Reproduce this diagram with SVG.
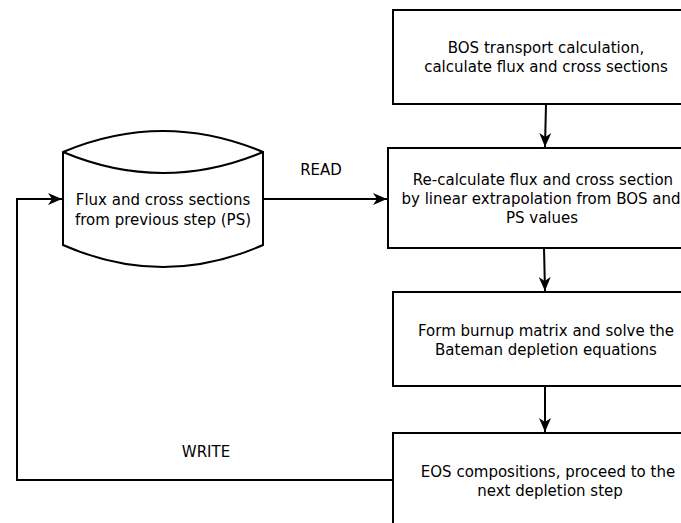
<svg xmlns="http://www.w3.org/2000/svg" width="681" height="523" viewBox="0 0 681 523">
<defs>
<style>
.box{fill:#fff;stroke:#000;stroke-width:2}
.ln{fill:none;stroke:#000;stroke-width:2}
text{font-family:"DejaVu Sans",sans-serif;font-size:15px;fill:#000;text-anchor:middle}
</style>
<marker id="ahb" viewBox="0 0 14 12" refX="14" refY="6" markerWidth="14" markerHeight="12" markerUnits="userSpaceOnUse" orient="auto">
<path d="M0,0 L14,6 L0,12 L4,6 Z" fill="#000"/>
</marker>
</defs>
<g id="connectors">
<path class="ln" d="M546,104 L545,147" marker-end="url(#ahb)"/>
<path class="ln" d="M544,248 L545,291" marker-end="url(#ahb)"/>
<path class="ln" d="M545,386 L545,432" marker-end="url(#ahb)"/>
<path class="ln" d="M263,199 L387,199" marker-end="url(#ahb)"/>
<path class="ln" d="M393,480 L17,480 L17,199 L62,199" marker-end="url(#ahb)"/>
<text x="321" y="175">READ</text>
<text x="206" y="457">WRITE</text>
</g>
<g id="ps">
<path class="box" d="M63,152 Q163,110 263,152 L263,245 Q163,289 63,245 Z"/>
<path class="ln" d="M63,152 Q163,194 263,152"/>
<text x="163" y="205">Flux and cross sections</text>
<text x="163" y="225">from previous step (PS)</text>
</g>
<g id="bos">
<rect class="box" x="393" y="10" width="300" height="94"/>
<text x="546" y="53">BOS transport calculation,</text>
<text x="546" y="72">calculate flux and cross sections</text>
</g>
<g id="recalc">
<rect class="box" x="388" y="148" width="305" height="100"/>
<text x="543" y="185">Re-calculate flux and cross section</text>
<text x="541" y="204">by linear extrapolation from BOS and</text>
<text x="542" y="223">PS values</text>
</g>
<g id="burnup">
<rect class="box" x="393" y="292" width="300" height="94"/>
<text x="546" y="336">Form burnup matrix and solve the</text>
<text x="546" y="355">Bateman depletion equations</text>
</g>
<g id="eos">
<rect class="box" x="393" y="433" width="300" height="100"/>
<text x="548" y="477">EOS compositions, proceed to the</text>
<text x="550" y="496">next depletion step</text>
</g>
</svg>
